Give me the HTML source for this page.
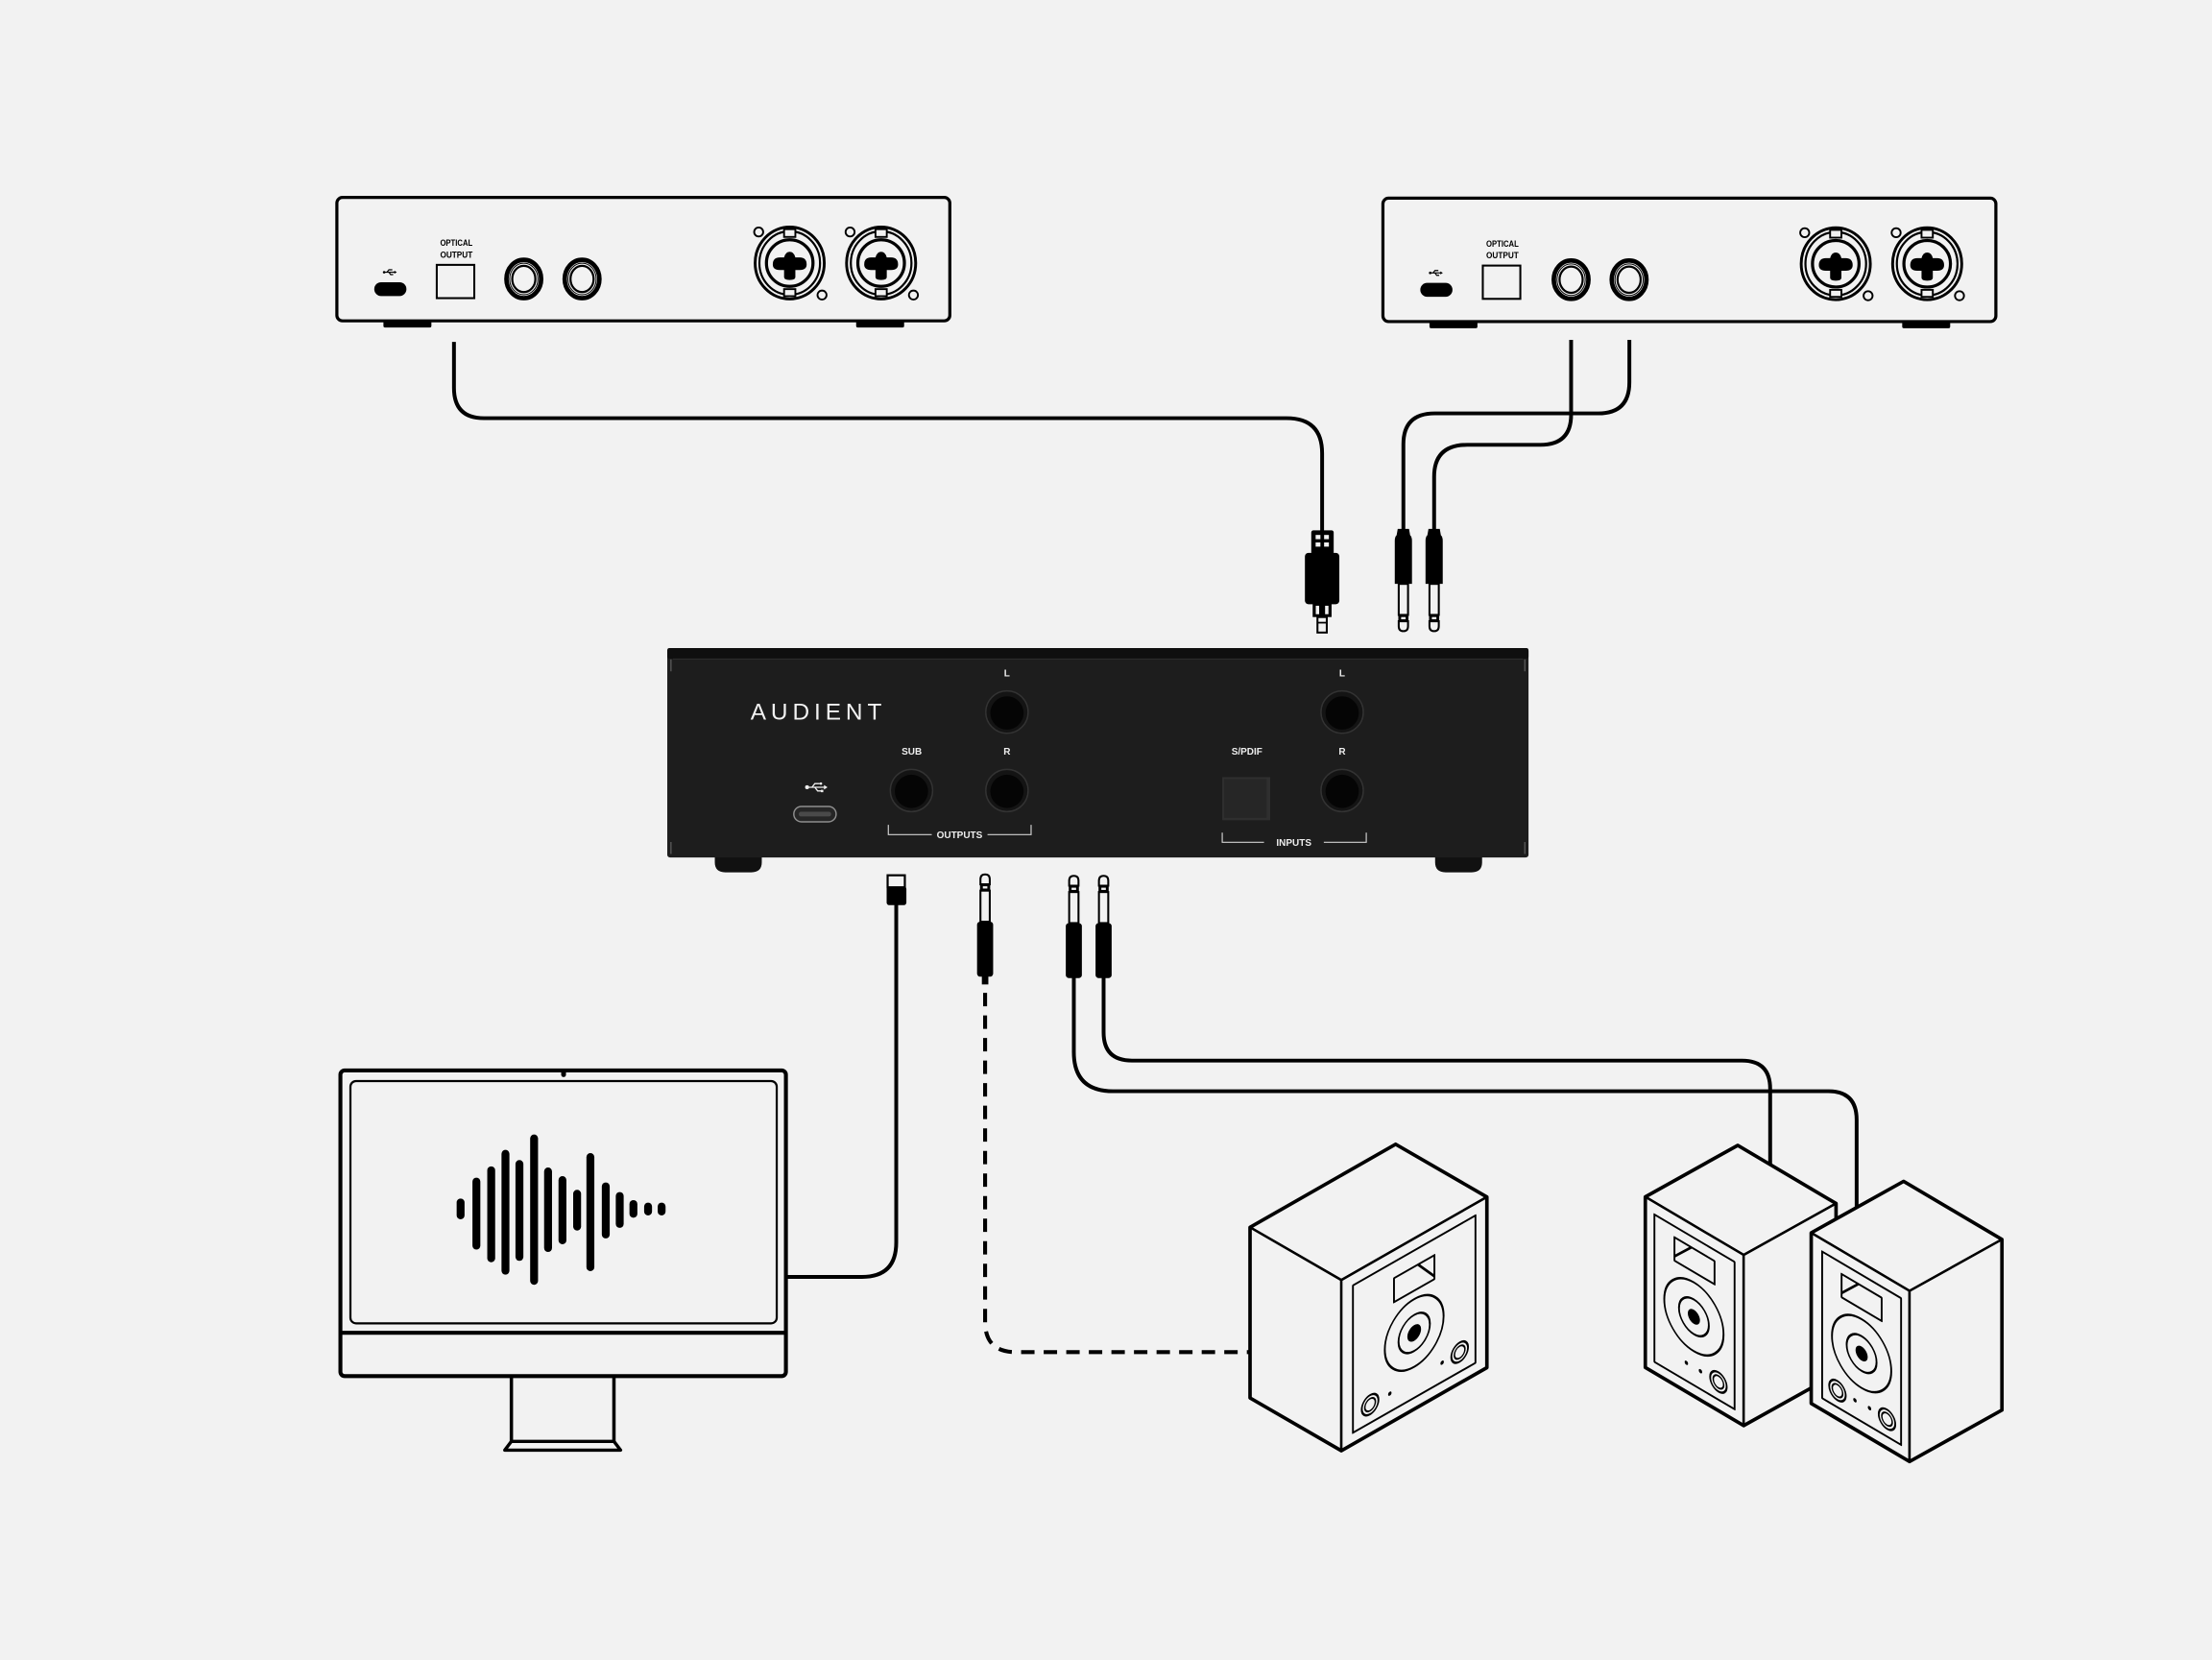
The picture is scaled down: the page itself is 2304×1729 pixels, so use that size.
<!DOCTYPE html>
<html><head><meta charset="utf-8"><style>html,body{margin:0;padding:0;background:#f2f2f2;}svg{display:block;}</style></head>
<body>
<svg xmlns="http://www.w3.org/2000/svg" width="2304" height="1729" viewBox="0 0 1568 1177" preserveAspectRatio="none">
<rect x="0" y="0" width="1568" height="1177" fill="#f2f2f2"/>

<!-- ============ CABLES ============ -->
<g fill="none" stroke="#000" stroke-width="2.7" stroke-linejoin="round">
  <!-- left device optical -> main -->
  <path d="M321.8 242.4 V275 Q321.8 296.5 343 296.5 H912 Q937.2 296.5 937.2 321.5 V377"/>
  <!-- right device jacks -> main -->
  <path d="M1113.7 241 V294 Q1113.7 315.4 1092 315.4 H1040 Q1016.6 315.4 1016.6 338 V376"/>
  <path d="M1155 241 V271 Q1155 293.1 1133 293.1 H1017 Q994.8 293.1 994.8 315 V376"/>
  <!-- USB to monitor -->
  <path d="M635.3 641 V881 Q635.3 905.4 611 905.4 H557"/>
  <!-- speaker cables -->
  <path d="M761.2 693 V746 Q761.2 773.7 789 773.7 H1296 Q1316.1 773.7 1316.1 794 V860"/>
  <path d="M782.3 693 V732 Q782.3 752 802.3 752 H1234.8 Q1254.8 752 1254.8 772 V835"/>
  <!-- sub dashed -->
  <path d="M698.3 704 V937 Q698.3 958.7 720 958.7 H886" stroke-width="2.8" stroke-dasharray="9.5 6.5"/>
</g>

<!-- ============ TOP LEFT DEVICE ============ -->
<g>
  <rect x="271.8" y="226" width="34" height="6.2" rx="1.2" fill="#000"/>
  <rect x="606.9" y="226" width="34" height="6.2" rx="1.2" fill="#000"/>
  <rect x="238.8" y="140" width="434.5" height="87.5" rx="4" fill="#f2f2f2" stroke="#000" stroke-width="2.2"/>
  <rect x="265.3" y="200.1" width="22.8" height="9.8" rx="4.9" fill="#000"/>
  <g transform="translate(276.3,193)" stroke="#000" fill="#000" stroke-width="0.8">
    <circle cx="-4" cy="0" r="0.9" stroke="none"/>
    <line x1="-4" y1="0" x2="3.5" y2="0"/>
    <polygon points="5,0 3.2,-1.1 3.2,1.1" stroke="none"/>
    <polyline points="-2,0 -0.6,-1.7 1.8,-1.7" fill="none"/>
    <polyline points="-0.6,0 0.6,1.7 2.4,1.7" fill="none"/>
  </g>
  <text x="323.5" y="174.3" font-family="Liberation Sans, sans-serif" font-weight="bold" font-size="6.2" text-anchor="middle" textLength="23" lengthAdjust="spacingAndGlyphs" fill="#000">OPTICAL</text>
  <text x="323.5" y="182.7" font-family="Liberation Sans, sans-serif" font-weight="bold" font-size="6.2" text-anchor="middle" textLength="23" lengthAdjust="spacingAndGlyphs" fill="#000">OUTPUT</text>
  <rect x="309.6" y="187.8" width="26.6" height="23.6" fill="none" stroke="#000" stroke-width="1.4"/>
  <g fill="none" stroke="#000">
    <ellipse cx="371.3" cy="197.8" rx="12.3" ry="13.6" stroke-width="3.2"/>
    <ellipse cx="371.3" cy="197.8" rx="10" ry="11.2" stroke-width="0.7"/>
    <ellipse cx="371.3" cy="197.8" rx="8.2" ry="9.3" stroke-width="1.5"/>
    <ellipse cx="412.6" cy="197.8" rx="12.3" ry="13.6" stroke-width="3.2"/>
    <ellipse cx="412.6" cy="197.8" rx="10" ry="11.2" stroke-width="0.7"/>
    <ellipse cx="412.6" cy="197.8" rx="8.2" ry="9.3" stroke-width="1.5"/>
  </g>
  <g transform="translate(559.8,186.5)">
    <circle cx="-22" cy="-22" r="3.2" fill="#f2f2f2" stroke="#000" stroke-width="1.3"/>
    <circle cx="22.9" cy="22.7" r="3.2" fill="#f2f2f2" stroke="#000" stroke-width="1.3"/>
    <ellipse rx="24.5" ry="25.5" fill="#f2f2f2" stroke="#000" stroke-width="2"/>
    <ellipse rx="21.5" ry="22.5" fill="none" stroke="#000" stroke-width="1.5"/>
    <circle r="16.5" fill="none" stroke="#000" stroke-width="2.2"/>
    <rect x="-4" y="-24" width="8" height="5.5" fill="#f2f2f2" stroke="#000" stroke-width="1.3"/>
    <rect x="-4" y="18.5" width="8" height="5" fill="#f2f2f2" stroke="#000" stroke-width="1.3"/>
    <path d="M-12,1 Q-12,-4 -7,-4 L-4,-4 Q-3,-8 0,-8 Q3,-8 4,-4 L7,-4 Q12,-4 12,1 Q12,5 7,5 L4,5 L4,10 Q4,12 0,12 Q-4,12 -4,10 L-4,5 L-7,5 Q-12,5 -12,1 Z" fill="#000"/>
  </g>
  <g transform="translate(624.6,186.5)">
    <circle cx="-22" cy="-22" r="3.2" fill="#f2f2f2" stroke="#000" stroke-width="1.3"/>
    <circle cx="22.9" cy="22.7" r="3.2" fill="#f2f2f2" stroke="#000" stroke-width="1.3"/>
    <ellipse rx="24.5" ry="25.5" fill="#f2f2f2" stroke="#000" stroke-width="2"/>
    <ellipse rx="21.5" ry="22.5" fill="none" stroke="#000" stroke-width="1.5"/>
    <circle r="16.5" fill="none" stroke="#000" stroke-width="2.2"/>
    <rect x="-4" y="-24" width="8" height="5.5" fill="#f2f2f2" stroke="#000" stroke-width="1.3"/>
    <rect x="-4" y="18.5" width="8" height="5" fill="#f2f2f2" stroke="#000" stroke-width="1.3"/>
    <path d="M-12,1 Q-12,-4 -7,-4 L-4,-4 Q-3,-8 0,-8 Q3,-8 4,-4 L7,-4 Q12,-4 12,1 Q12,5 7,5 L4,5 L4,10 Q4,12 0,12 Q-4,12 -4,10 L-4,5 L-7,5 Q-12,5 -12,1 Z" fill="#000"/>
  </g>
</g>

<!-- ============ TOP RIGHT DEVICE ============ -->
<g transform="translate(741.5,0.5)">
  <rect x="271.8" y="226" width="34" height="6.2" rx="1.2" fill="#000"/>
  <rect x="606.9" y="226" width="34" height="6.2" rx="1.2" fill="#000"/>
  <rect x="238.8" y="140" width="434.5" height="87.5" rx="4" fill="#f2f2f2" stroke="#000" stroke-width="2.2"/>
  <rect x="265.3" y="200.1" width="22.8" height="9.8" rx="4.9" fill="#000"/>
  <g transform="translate(276.3,193)" stroke="#000" fill="#000" stroke-width="0.8">
    <circle cx="-4" cy="0" r="0.9" stroke="none"/>
    <line x1="-4" y1="0" x2="3.5" y2="0"/>
    <polygon points="5,0 3.2,-1.1 3.2,1.1" stroke="none"/>
    <polyline points="-2,0 -0.6,-1.7 1.8,-1.7" fill="none"/>
    <polyline points="-0.6,0 0.6,1.7 2.4,1.7" fill="none"/>
  </g>
  <text x="323.5" y="174.3" font-family="Liberation Sans, sans-serif" font-weight="bold" font-size="6.2" text-anchor="middle" textLength="23" lengthAdjust="spacingAndGlyphs" fill="#000">OPTICAL</text>
  <text x="323.5" y="182.7" font-family="Liberation Sans, sans-serif" font-weight="bold" font-size="6.2" text-anchor="middle" textLength="23" lengthAdjust="spacingAndGlyphs" fill="#000">OUTPUT</text>
  <rect x="309.6" y="187.8" width="26.6" height="23.6" fill="none" stroke="#000" stroke-width="1.4"/>
  <g fill="none" stroke="#000">
    <ellipse cx="372.2" cy="197.8" rx="12.3" ry="13.6" stroke-width="3.2"/>
    <ellipse cx="372.2" cy="197.8" rx="10" ry="11.2" stroke-width="0.7"/>
    <ellipse cx="372.2" cy="197.8" rx="8.2" ry="9.3" stroke-width="1.5"/>
    <ellipse cx="413.3" cy="197.8" rx="12.3" ry="13.6" stroke-width="3.2"/>
    <ellipse cx="413.3" cy="197.8" rx="10" ry="11.2" stroke-width="0.7"/>
    <ellipse cx="413.3" cy="197.8" rx="8.2" ry="9.3" stroke-width="1.5"/>
  </g>
  <g transform="translate(559.8,186.5)">
    <circle cx="-22" cy="-22" r="3.2" fill="#f2f2f2" stroke="#000" stroke-width="1.3"/>
    <circle cx="22.9" cy="22.7" r="3.2" fill="#f2f2f2" stroke="#000" stroke-width="1.3"/>
    <ellipse rx="24.5" ry="25.5" fill="#f2f2f2" stroke="#000" stroke-width="2"/>
    <ellipse rx="21.5" ry="22.5" fill="none" stroke="#000" stroke-width="1.5"/>
    <circle r="16.5" fill="none" stroke="#000" stroke-width="2.2"/>
    <rect x="-4" y="-24" width="8" height="5.5" fill="#f2f2f2" stroke="#000" stroke-width="1.3"/>
    <rect x="-4" y="18.5" width="8" height="5" fill="#f2f2f2" stroke="#000" stroke-width="1.3"/>
    <path d="M-12,1 Q-12,-4 -7,-4 L-4,-4 Q-3,-8 0,-8 Q3,-8 4,-4 L7,-4 Q12,-4 12,1 Q12,5 7,5 L4,5 L4,10 Q4,12 0,12 Q-4,12 -4,10 L-4,5 L-7,5 Q-12,5 -12,1 Z" fill="#000"/>
  </g>
  <g transform="translate(624.6,186.5)">
    <circle cx="-22" cy="-22" r="3.2" fill="#f2f2f2" stroke="#000" stroke-width="1.3"/>
    <circle cx="22.9" cy="22.7" r="3.2" fill="#f2f2f2" stroke="#000" stroke-width="1.3"/>
    <ellipse rx="24.5" ry="25.5" fill="#f2f2f2" stroke="#000" stroke-width="2"/>
    <ellipse rx="21.5" ry="22.5" fill="none" stroke="#000" stroke-width="1.5"/>
    <circle r="16.5" fill="none" stroke="#000" stroke-width="2.2"/>
    <rect x="-4" y="-24" width="8" height="5.5" fill="#f2f2f2" stroke="#000" stroke-width="1.3"/>
    <rect x="-4" y="18.5" width="8" height="5" fill="#f2f2f2" stroke="#000" stroke-width="1.3"/>
    <path d="M-12,1 Q-12,-4 -7,-4 L-4,-4 Q-3,-8 0,-8 Q3,-8 4,-4 L7,-4 Q12,-4 12,1 Q12,5 7,5 L4,5 L4,10 Q4,12 0,12 Q-4,12 -4,10 L-4,5 L-7,5 Q-12,5 -12,1 Z" fill="#000"/>
  </g>
</g>

<!-- ============ PLUGS ABOVE MAIN DEVICE ============ -->
<!-- optical plug -->
<g>
  <rect x="929.5" y="376" width="15.9" height="17" rx="1.5" fill="#000"/>
  <rect x="932.6" y="379.3" width="3.4" height="3" fill="#f2f2f2"/>
  <rect x="938.6" y="379.3" width="3.4" height="3" fill="#f2f2f2"/>
  <rect x="932.6" y="384.6" width="3.4" height="3" fill="#f2f2f2"/>
  <rect x="938.6" y="384.6" width="3.4" height="3" fill="#f2f2f2"/>
  <rect x="925" y="392" width="24.4" height="36.4" rx="2.5" fill="#000"/>
  <rect x="930.5" y="428" width="13.4" height="9.5" fill="#000"/>
  <rect x="932.7" y="429.5" width="2.4" height="6" fill="#f2f2f2"/>
  <rect x="939.3" y="429.5" width="2.4" height="6" fill="#f2f2f2"/>
  <rect x="933.9" y="437.5" width="6.6" height="11" fill="#f2f2f2" stroke="#000" stroke-width="1.4"/>
  <line x1="933.9" y1="441.5" x2="940.5" y2="441.5" stroke="#000" stroke-width="1.2"/>
</g>
<!-- jack plugs pointing down -->
<g transform="translate(994.8,447.5) scale(1,-1)">
  <path d="M-3.3,7 V3.5 Q-3.3,0 0,0 Q3.3,0 3.3,3.5 V7 Z" fill="#f2f2f2" stroke="#000" stroke-width="1.4"/>
  <rect x="-3.6" y="7" width="7.2" height="4.5" fill="#000"/>
  <rect x="-1.6" y="8.4" width="3.2" height="1.6" fill="#f2f2f2"/>
  <rect x="-3.3" y="11.5" width="6.6" height="22" fill="#f2f2f2" stroke="#000" stroke-width="1.4"/>
  <path d="M-6.1,33.5 H6.1 V64 Q6.1,67 4.8,68 L4,72.5 H-4 L-4.8,68 Q-6.1,67 -6.1,64 Z" fill="#000"/>
</g>
<g transform="translate(1016.6,447.5) scale(1,-1)">
  <path d="M-3.3,7 V3.5 Q-3.3,0 0,0 Q3.3,0 3.3,3.5 V7 Z" fill="#f2f2f2" stroke="#000" stroke-width="1.4"/>
  <rect x="-3.6" y="7" width="7.2" height="4.5" fill="#000"/>
  <rect x="-1.6" y="8.4" width="3.2" height="1.6" fill="#f2f2f2"/>
  <rect x="-3.3" y="11.5" width="6.6" height="22" fill="#f2f2f2" stroke="#000" stroke-width="1.4"/>
  <path d="M-6.1,33.5 H6.1 V64 Q6.1,67 4.8,68 L4,72.5 H-4 L-4.8,68 Q-6.1,67 -6.1,64 Z" fill="#000"/>
</g>

<!-- ============ MAIN DEVICE ============ -->
<g>
  <path d="M506.7 606 H540 V611.5 Q540 618.5 532.5 618.5 H514.2 Q506.7 618.5 506.7 611.5 Z" fill="#111"/>
  <path d="M1017.3 606 H1050.6 V611.5 Q1050.6 618.5 1043.1 618.5 H1024.8 Q1017.3 618.5 1017.3 611.5 Z" fill="#111"/>
  <rect x="473" y="459.5" width="610.5" height="148.5" rx="2" fill="#1d1d1d"/>
  <rect x="473" y="459.5" width="610.5" height="7.5" rx="1.5" fill="#0f0f0f"/>
  <line x1="477" y1="467.3" x2="1079.5" y2="467.3" stroke="#2c2c2c" stroke-width="0.8"/>
  <g stroke="#5a5a5a" stroke-width="0.9">
    <line x1="475.6" y1="467.5" x2="475.6" y2="476"/>
    <line x1="1080.9" y1="467.5" x2="1080.9" y2="476"/>
    <line x1="475.6" y1="597" x2="475.6" y2="605.5"/>
    <line x1="1080.9" y1="597" x2="1080.9" y2="605.5"/>
  </g>
  <text x="532" y="510.2" font-family="Liberation Sans, sans-serif" font-size="16.6" fill="#f2f2f2" textLength="93" lengthAdjust="spacing">AUDIENT</text>

  <g font-family="Liberation Sans, sans-serif" font-weight="bold" font-size="6.8" fill="#ededed" text-anchor="middle">
    <text x="713.8" y="479.5">L</text>
    <text x="713.8" y="535.1">R</text>
    <text x="646.3" y="535.1">SUB</text>
    <text x="951.4" y="479.5">L</text>
    <text x="951.4" y="535.1">R</text>
    <text x="883.9" y="535.1">S/PDIF</text>
    <text x="680.2" y="594.3">OUTPUTS</text>
    <text x="917.2" y="599.7">INPUTS</text>
  </g>
  <g fill="none" stroke="#d0d0d0" stroke-width="0.8">
    <path d="M629.7 584.8 V591.8 H660.5"/>
    <path d="M700 591.8 H730.9 V584.8"/>
    <path d="M866.4 590.4 V597.2 H896"/>
    <path d="M938.4 597.2 H968.5 V590.4"/>
  </g>
  <!-- USB -->
  <g transform="translate(578.6,558.2)" stroke="#eee" fill="#eee" stroke-width="0.9">
    <circle cx="-6.5" cy="0" r="1.4" stroke="none"/>
    <line x1="-6.5" y1="0" x2="6" y2="0"/>
    <polygon points="8,0 5.5,-1.6 5.5,1.6" stroke="none"/>
    <polyline points="-3,0 -1,-2.6 2.5,-2.6" fill="none"/>
    <circle cx="3.3" cy="-2.6" r="0.9" stroke="none"/>
    <polyline points="-1,0 1,2.6 3.5,2.6" fill="none"/>
    <rect x="3.3" y="1.8" width="1.7" height="1.7" stroke="none"/>
  </g>
  <rect x="562.7" y="571.8" width="30" height="10.9" rx="5.4" fill="#262626" stroke="#8e8e8e" stroke-width="1"/>
  <rect x="566.2" y="575.6" width="23" height="3.3" rx="1.6" fill="#4a4a4a"/>
  <!-- jacks -->
  <g>
    <circle cx="713.8" cy="504.9" r="15" fill="#141414" stroke="#333" stroke-width="1"/>
    <circle cx="713.8" cy="505.5" r="11.8" fill="#050505"/>
    <circle cx="713.8" cy="560.5" r="15" fill="#141414" stroke="#333" stroke-width="1"/>
    <circle cx="713.8" cy="561.1" r="11.8" fill="#050505"/>
    <circle cx="646.1" cy="560.5" r="15" fill="#141414" stroke="#333" stroke-width="1"/>
    <circle cx="646.1" cy="561.1" r="11.8" fill="#050505"/>
    <circle cx="951.4" cy="504.9" r="15" fill="#141414" stroke="#333" stroke-width="1"/>
    <circle cx="951.4" cy="505.5" r="11.8" fill="#050505"/>
    <circle cx="951.4" cy="560.5" r="15" fill="#141414" stroke="#333" stroke-width="1"/>
    <circle cx="951.4" cy="561.1" r="11.8" fill="#050505"/>
  </g>
  <rect x="866.4" y="551" width="34" height="30.6" fill="#2f2f2f"/>
  <rect x="867.8" y="552.4" width="30" height="27.5" fill="#262626"/>
</g>

<!-- ============ PLUGS BELOW MAIN DEVICE ============ -->
<g>
  <rect x="629.2" y="620.6" width="12.2" height="8.6" fill="#f2f2f2" stroke="#000" stroke-width="1.5"/>
  <rect x="628.5" y="628.5" width="14" height="13.3" rx="1.8" fill="#000"/>
</g>
<g transform="translate(698.3,620)">
  <path d="M-3.3,7 V3.5 Q-3.3,0 0,0 Q3.3,0 3.3,3.5 V7 Z" fill="#f2f2f2" stroke="#000" stroke-width="1.4"/>
  <rect x="-3.6" y="7" width="7.2" height="4.5" fill="#000"/>
  <rect x="-1.6" y="8.4" width="3.2" height="1.6" fill="#f2f2f2"/>
  <rect x="-3.3" y="11.5" width="6.6" height="22" fill="#f2f2f2" stroke="#000" stroke-width="1.4"/>
  <rect x="-5.7" y="33.5" width="11.4" height="39" rx="2.2" fill="#000"/>
  <rect x="-2.3" y="72" width="4.6" height="6" fill="#000"/>
</g>
<g transform="translate(761.2,621)">
  <path d="M-3.3,7 V3.5 Q-3.3,0 0,0 Q3.3,0 3.3,3.5 V7 Z" fill="#f2f2f2" stroke="#000" stroke-width="1.4"/>
  <rect x="-3.6" y="7" width="7.2" height="4.5" fill="#000"/>
  <rect x="-1.6" y="8.4" width="3.2" height="1.6" fill="#f2f2f2"/>
  <rect x="-3.3" y="11.5" width="6.6" height="22" fill="#f2f2f2" stroke="#000" stroke-width="1.4"/>
  <rect x="-5.7" y="33.5" width="11.4" height="39" rx="2.2" fill="#000"/>
</g>
<g transform="translate(782.3,621)">
  <path d="M-3.3,7 V3.5 Q-3.3,0 0,0 Q3.3,0 3.3,3.5 V7 Z" fill="#f2f2f2" stroke="#000" stroke-width="1.4"/>
  <rect x="-3.6" y="7" width="7.2" height="4.5" fill="#000"/>
  <rect x="-1.6" y="8.4" width="3.2" height="1.6" fill="#f2f2f2"/>
  <rect x="-3.3" y="11.5" width="6.6" height="22" fill="#f2f2f2" stroke="#000" stroke-width="1.4"/>
  <rect x="-5.7" y="33.5" width="11.4" height="39" rx="2.2" fill="#000"/>
</g>

<!-- ============ MONITOR ============ -->
<g stroke="#000" fill="none">
  <path d="M362.5 975.7 V1022 M435.2 975.7 V1022" stroke-width="2.4"/>
  <path d="M362.5 1022 H435.2 L439.9 1028.2 H357.8 Z" fill="#f2f2f2" stroke-width="2.3" stroke-linejoin="round"/>
  <rect x="241.3" y="759" width="315.8" height="216.7" rx="3" fill="#f2f2f2" stroke-width="2.8"/>
  <rect x="248.4" y="766.5" width="302.2" height="171.8" rx="4" stroke-width="1.5"/>
  <line x1="241.3" y1="945" x2="557.1" y2="945" stroke-width="2.8"/>
</g>
<path d="M397.8 760 h3.4 v2 a1.7 1.7 0 0 1 -3.4 0 z" fill="#000"/>
<g fill="#000">
  <rect x="323.7" y="849.8" width="5.6" height="14.7" rx="2.8"/>
  <rect x="334.9" y="835" width="5.6" height="51" rx="2.8"/>
  <rect x="345.4" y="827" width="5.6" height="68" rx="2.8"/>
  <rect x="355.5" y="815.3" width="5.6" height="88.5" rx="2.8"/>
  <rect x="365.4" y="822.5" width="5.6" height="71.5" rx="2.8"/>
  <rect x="375.8" y="804.4" width="5.6" height="106.6" rx="2.8"/>
  <rect x="385.7" y="827.8" width="5.6" height="59.9" rx="2.8"/>
  <rect x="395.9" y="833.9" width="5.6" height="48.3" rx="2.8"/>
  <rect x="406.3" y="843.6" width="5.6" height="28.9" rx="2.8"/>
  <rect x="415.7" y="817.6" width="5.6" height="83.7" rx="2.8"/>
  <rect x="426.6" y="838.4" width="5.6" height="39.7" rx="2.8"/>
  <rect x="436.5" y="845.2" width="5.6" height="25.4" rx="2.8"/>
  <rect x="446.2" y="850.9" width="5.6" height="12.5" rx="2.8"/>
  <rect x="456.6" y="852.7" width="5.6" height="9.1" rx="2.8"/>
  <rect x="466.2" y="852.7" width="5.6" height="9.1" rx="2.8"/>
</g>

<!-- ============ SUBWOOFER ============ -->
<g stroke="#000" stroke-linejoin="round">
  <polygon points="886.1,870.2 989.3,811.3 1054,848.7 950.8,907.6" fill="#f2f2f2" stroke-width="1.7"/>
  <polygon points="886.1,870.2 950.8,907.6 950.8,1028.6 886.1,991.2" fill="#f2f2f2" stroke-width="1.7"/>
  <polygon points="950.8,907.6 1054,848.7 1054,969.7 950.8,1028.6" fill="#f2f2f2" stroke-width="1.7"/>
  <polygon points="989.3,811.3 1054,848.7 1054,969.7 950.8,1028.6 886.1,991.2 886.1,870.2" fill="none" stroke-width="2.5"/>
  <g transform="matrix(0.8685,-0.4957,0,1,950.8,907.6)" fill="none" stroke-width="1.5">
    <rect x="9.5" y="8.5" width="100" height="104.5"/>
    <rect x="43" y="20" width="33" height="17"/>
    <line x1="62.6" y1="20" x2="76" y2="35"/>
    <circle cx="59.5" cy="67" r="24"/>
    <circle cx="59.5" cy="67" r="12.8"/>
    <circle cx="59.5" cy="67" r="5.6" fill="#000" stroke="none"/>
    <circle cx="23.5" cy="100" r="6.8"/>
    <circle cx="23.5" cy="100" r="4.3" stroke-width="1.2"/>
    <circle cx="96.6" cy="99" r="6.8"/>
    <circle cx="96.6" cy="99" r="4.3" stroke-width="1.2"/>
    <circle cx="39.6" cy="100.2" r="1.4" fill="#000" stroke="none"/>
    <circle cx="82.3" cy="99.4" r="1.4" fill="#000" stroke="none"/>
  </g>
</g>

<!-- ============ SPEAKER A ============ -->
<g stroke="#000" stroke-linejoin="round">
  <polygon points="1166.3,848.6 1231.8,812.1 1301.5,853.3 1236,889.8" fill="#f2f2f2" stroke-width="1.7"/>
  <polygon points="1166.3,848.6 1236,889.8 1236,1010.8 1166.3,969.6" fill="#f2f2f2" stroke-width="1.7"/>
  <polygon points="1236,889.8 1301.5,853.3 1301.5,974.3 1236,1010.8" fill="#f2f2f2" stroke-width="1.7"/>
  <polygon points="1231.8,812.1 1301.5,853.3 1301.5,974.3 1236,1010.8 1166.3,969.6 1166.3,848.6" fill="none" stroke-width="2.5"/>
  <g transform="matrix(0.861,0.509,0,1,1166.3,848.6)" fill="none" stroke-width="1.5">
    <rect x="7.5" y="8.7" width="66" height="104.5"/>
    <rect x="24" y="16.5" width="33" height="16.5"/>
    <line x1="37.9" y1="16.5" x2="24" y2="30"/>
    <circle cx="40" cy="64.7" r="24.4"/>
    <circle cx="40" cy="64.7" r="12.3"/>
    <circle cx="40" cy="64.7" r="5" fill="#000" stroke="none"/>
    <circle cx="33.8" cy="100.5" r="1.4" fill="#000" stroke="none"/>
    <circle cx="45.4" cy="100.5" r="1.4" fill="#000" stroke="none"/>
    <circle cx="60.2" cy="100.6" r="6.8"/>
    <circle cx="60.2" cy="100.6" r="4.3" stroke-width="1.2"/>
  </g>
</g>

<!-- ============ SPEAKER B ============ -->
<g stroke="#000" stroke-linejoin="round">
  <polygon points="1283.9,874.1 1349.4,837.6 1419.1,878.8 1353.6,915.3" fill="#f2f2f2" stroke-width="1.7"/>
  <polygon points="1283.9,874.1 1353.6,915.3 1353.6,1036.3 1283.9,995.1" fill="#f2f2f2" stroke-width="1.7"/>
  <polygon points="1353.6,915.3 1419.1,878.8 1419.1,999.8 1353.6,1036.3" fill="#f2f2f2" stroke-width="1.7"/>
  <polygon points="1349.4,837.6 1419.1,878.8 1419.1,999.8 1353.6,1036.3 1283.9,995.1 1283.9,874.1" fill="none" stroke-width="2.5"/>
  <g transform="matrix(0.861,0.509,0,1,1283.9,874.1)" fill="none" stroke-width="1.5">
    <rect x="9" y="8.7" width="65" height="104"/>
    <rect x="25" y="16.5" width="33" height="16.5"/>
    <line x1="38.9" y1="16.5" x2="25" y2="30"/>
    <circle cx="41.5" cy="64.5" r="24.4"/>
    <circle cx="41.5" cy="64.5" r="12.3"/>
    <circle cx="41.5" cy="64.5" r="5" fill="#000" stroke="none"/>
    <circle cx="21.6" cy="100.9" r="6.8"/>
    <circle cx="21.6" cy="100.9" r="4.3" stroke-width="1.2"/>
    <circle cx="36" cy="100.4" r="1.4" fill="#000" stroke="none"/>
    <circle cx="48" cy="99.9" r="1.4" fill="#000" stroke="none"/>
    <circle cx="62.4" cy="100.4" r="6.8"/>
    <circle cx="62.4" cy="100.4" r="4.3" stroke-width="1.2"/>
  </g>
</g>
</svg>
</body></html>
